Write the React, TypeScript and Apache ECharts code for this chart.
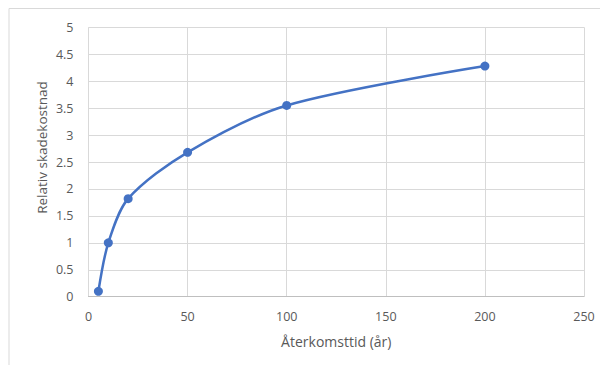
import React, { useEffect, useRef } from "react";
import * as echarts from "echarts";

const xValues = [5, 10, 20, 50, 100, 200];
const yValues = [0.1, 1.0, 1.82, 2.68, 3.55, 4.28];
const xTitle = "Återkomsttid (år)";
const yTitle = "Relativ skadekostnad";

export default function App() {
  const ref = useRef<HTMLDivElement>(null);
  useEffect(() => {
    if (!ref.current) return;
    const chart = echarts.init(ref.current, undefined, { renderer: "svg" });
    const font = "Open Sans";
    chart.setOption({
      animation: false,
      grid: { left: 80.5, top: 19.3, right: 24, bottom: 68.3, containLabel: false },
      graphic: [
        {
          type: "rect",
          shape: { x: 1, y: 0.5, width: 800, height: 600 },
          style: { fill: "none", stroke: "#d9d9d9", lineWidth: 1 },
          silent: true,
        },
        {
          type: "text",
          x: 33.7,
          y: 139.5,
          rotation: Math.PI / 2,
          style: {
            text: yTitle,
            fill: "#595959",
            font: `13.5px "${font}"`,
            textAlign: "center",
            textVerticalAlign: "middle",
          },
        },
      ],
      xAxis: {
        type: "value",
        min: 0,
        max: 250,
        interval: 50,
        name: xTitle,
        nameLocation: "middle",
        nameGap: 38,
        nameTextStyle: { color: "#595959", fontSize: 14, fontFamily: font, verticalAlign: "top" },
        axisLine: { show: true, lineStyle: { color: "#bfbfbf", width: 1 } },
        axisTick: { show: false },
        axisLabel: { color: "#595959", fontSize: 12.5, fontFamily: font, margin: 13 },
        splitLine: { show: true, lineStyle: { color: "#d9d9d9", width: 1 } },
      },
      yAxis: {
        type: "value",
        min: 0,
        max: 5,
        interval: 0.5,
        axisLine: { show: false },
        axisTick: { show: false },
        axisLabel: { color: "#595959", fontSize: 12.5, fontFamily: font, margin: 15 },
        splitLine: { show: true, lineStyle: { color: "#d9d9d9", width: 1 } },
      },
      series: [
        {
          type: "line",
          data: xValues.map((x, i) => [x, yValues[i]]),
          smooth: 0.3,
          symbol: "circle",
          symbolSize: 9,
          lineStyle: { color: "#4472C4", width: 2.5 },
          itemStyle: { color: "#4472C4" },
        },
      ],
    });
    return () => chart.dispose();
  }, []);
  return <div ref={ref} style={{ width: 600, height: 357 }} />;
}
